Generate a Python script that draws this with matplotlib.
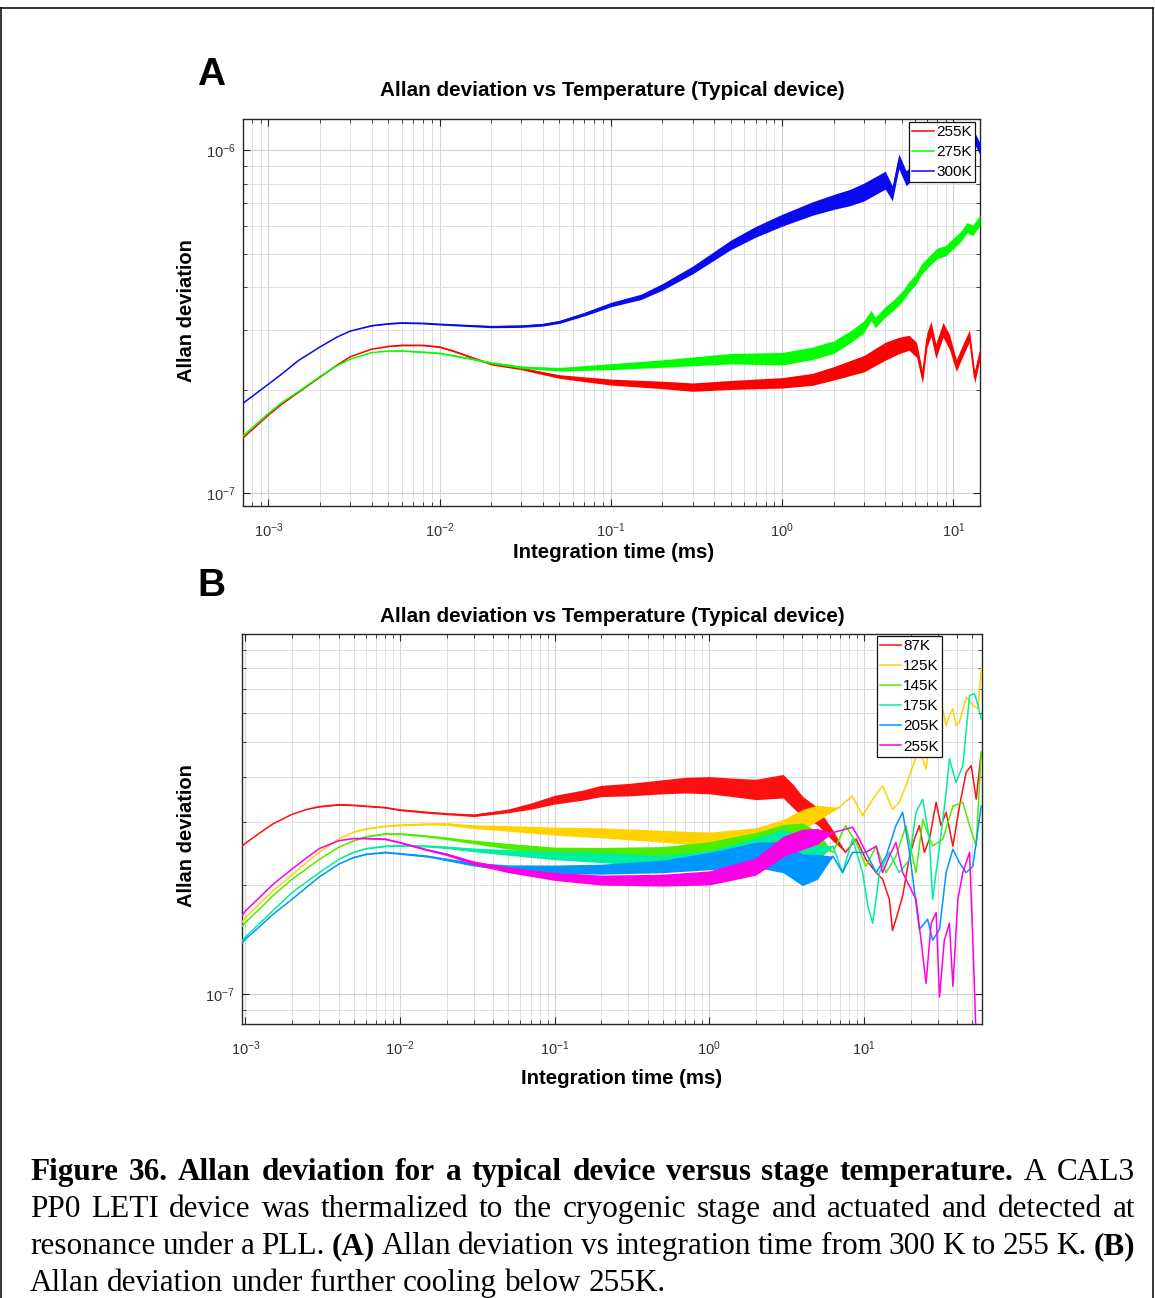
import numpy as np
import matplotlib
matplotlib.use("Agg")
import matplotlib.pyplot as plt
from matplotlib.lines import Line2D
from matplotlib.ticker import LogLocator, NullFormatter

# ---------------------------------------------------------------------------
# Allan deviation (in units of 1e-7) versus integration time (ms)
# NOISE_* = half-width of the noisy band around each trace (fraction)
# ---------------------------------------------------------------------------
ADEV_UNIT = 1e-7

# Panel A : 300 K down to 255 K
TAU_300K = [7.1e-4, 1e-3, 1.2e-3, 1.5e-3, 2e-3, 2.5e-3, 3e-3, 4e-3, 5e-3, 6e-3,
            8e-3, 1e-2, 1.5e-2, 2e-2, 3e-2, 4e-2, 5e-2, 7e-2, 0.1, 0.15,
            0.2, 0.3, 0.5, 0.7, 1.0, 1.5, 2.0, 2.5, 3.0, 3.5,
            4.0, 4.4, 4.8, 5.3, 6.0, 7.0, 8.0, 9.0, 10.0, 11.5,
            12.5, 13.5, 14.3]
ADEV_300K = [1.83, 2.08, 2.23, 2.44, 2.67, 2.85, 2.97, 3.08, 3.12, 3.14,
             3.13, 3.11, 3.08, 3.06, 3.07, 3.10, 3.16, 3.33, 3.55, 3.74,
             4.00, 4.48, 5.30, 5.79, 6.26, 6.77, 7.08, 7.30, 7.57, 7.90,
             8.20, 7.50, 9.30, 8.30, 8.80, 9.40, 9.00, 9.70, 9.90, 10.8,
             10.0, 10.7, 10.1]
NOISE_300K = [0, 0, 0, 0, 0, 0, 0, 0.002, 0.003, 0.004,
              0.004, 0.005, 0.006, 0.007, 0.008, 0.009, 0.010, 0.012, 0.015, 0.018,
              0.022, 0.026, 0.032, 0.036, 0.040, 0.045, 0.050, 0.055, 0.060, 0.060,
              0.060, 0.050, 0.050, 0.050, 0.050, 0.050, 0.050, 0.050, 0.045, 0.040,
              0.040, 0.040, 0.040]

TAU_275K = [7.1e-4, 1e-3, 1.2e-3, 1.5e-3, 2e-3, 2.5e-3, 3e-3, 4e-3, 5e-3, 6e-3,
            8e-3, 1e-2, 1.5e-2, 2e-2, 3e-2, 5e-2, 0.1, 0.2, 0.5, 1.0,
            1.5, 2.0, 2.5, 3.0, 3.3, 3.5, 4.0, 4.5, 5.0, 5.5,
            6.0, 6.5, 7.0, 7.5, 8.0, 9.0, 10.0, 11.0, 12.0, 13.0,
            14.3]
ADEV_275K = [1.47, 1.71, 1.84, 1.98, 2.19, 2.35, 2.46, 2.57, 2.60, 2.60,
             2.58, 2.56, 2.47, 2.40, 2.33, 2.30, 2.34, 2.39, 2.47, 2.47,
             2.56, 2.67, 2.86, 3.06, 3.30, 3.15, 3.38, 3.55, 3.74, 4.00,
             4.19, 4.50, 4.68, 4.85, 5.00, 5.10, 5.36, 5.60, 5.95, 5.85,
             6.26]
NOISE_275K = [0, 0, 0, 0, 0, 0, 0, 0, 0.002, 0.003,
              0.003, 0.004, 0.005, 0.006, 0.008, 0.012, 0.020, 0.025, 0.035, 0.042,
              0.042, 0.042, 0.040, 0.040, 0.035, 0.035, 0.035, 0.035, 0.035, 0.035,
              0.035, 0.035, 0.035, 0.035, 0.035, 0.035, 0.035, 0.035, 0.035, 0.035,
              0.035]

TAU_255K_A = [7.1e-4, 1e-3, 1.2e-3, 1.5e-3, 2e-3, 2.5e-3, 3e-3, 4e-3, 5e-3, 6e-3,
              7e-3, 8e-3, 1e-2, 1.2e-2, 1.5e-2, 2e-2, 3e-2, 4e-2, 5e-2, 7e-2,
              0.1, 0.2, 0.3, 0.5, 1.0, 1.5, 2.0, 3.0, 4.0, 4.8,
              5.5, 6.1, 6.6, 7.0, 7.4, 7.9, 8.7, 9.5, 10.4, 11.3,
              12.4, 13.3, 14.3]
ADEV_255K_A = [1.45, 1.69, 1.82, 1.97, 2.18, 2.36, 2.50, 2.63, 2.68, 2.70,
               2.70, 2.70, 2.67, 2.60, 2.50, 2.38, 2.31, 2.24, 2.19, 2.15,
               2.11, 2.07, 2.04, 2.07, 2.10, 2.15, 2.24, 2.39, 2.60, 2.70,
               2.75, 2.62, 2.18, 2.80, 3.02, 2.60, 3.00, 2.76, 2.36, 2.60,
               2.88, 2.18, 2.56]
NOISE_255K_A = [0, 0, 0, 0, 0, 0, 0, 0, 0.002, 0.003,
                0.003, 0.003, 0.004, 0.005, 0.005, 0.006, 0.008, 0.010, 0.012, 0.016,
                0.020, 0.025, 0.028, 0.030, 0.035, 0.040, 0.045, 0.055, 0.060, 0.055,
                0.050, 0.050, 0.040, 0.050, 0.050, 0.050, 0.050, 0.050, 0.040, 0.040,
                0.040, 0.040, 0.040]

LABELS_A = ["255K", "275K", "300K"]
COLORS_A = ["#ff0000", "#00ff00", "#0a0af0"]

# Panel B : further cooling below 255 K
TAU_B_SHARED = [9.5e-4, 1e-3, 1.2e-3, 1.5e-3, 2e-3, 2.5e-3, 3e-3, 4e-3, 5e-3, 6e-3,
                8e-3, 1e-2, 1.5e-2, 2e-2, 3e-2, 5e-2, 0.1, 0.2, 0.5, 1.0,
                2.0, 3.0, 4.0, 5.0]
NOISE_B_SHARED = [0, 0, 0, 0, 0, 0, 0, 0, 0.002, 0.003,
                  0.004, 0.005, 0.006, 0.008, 0.012, 0.018, 0.026, 0.032, 0.038, 0.045,
                  0.055, 0.065, 0.065, 0.050]

TAU_87K = [9.5e-4, 1e-3, 1.2e-3, 1.5e-3, 2e-3, 2.5e-3, 3e-3, 4e-3, 5e-3, 6e-3,
           8e-3, 1e-2, 1.5e-2, 2e-2, 3e-2, 5e-2, 7e-2, 0.1, 0.15, 0.2,
           0.3, 0.5, 0.7, 1.0, 1.5, 2.0, 3.0, 3.5, 4.0, 5.0,
           6.3, 7.6, 8.9, 10.3, 12.0, 13.2, 14.6, 15.3, 16.1, 17.8,
           19.7, 21.2, 22.8, 24.6, 26.5, 29.3, 31.5, 34.0, 37.6, 41.5,
           45.8, 49.4, 53.2, 57.3]
ADEV_87K = [2.57, 2.62, 2.77, 2.96, 3.15, 3.25, 3.31, 3.35, 3.34, 3.32,
            3.29, 3.24, 3.19, 3.16, 3.13, 3.22, 3.32, 3.46, 3.56, 3.66,
            3.69, 3.76, 3.80, 3.80, 3.74, 3.70, 3.78, 3.54, 3.32, 3.12,
            2.75, 2.47, 2.69, 2.36, 2.17, 2.08, 1.83, 1.50, 1.61, 1.87,
            2.41, 2.69, 2.93, 2.47, 2.69, 3.40, 2.93, 3.19, 2.57, 3.32,
            4.12, 4.30, 3.47, 4.68]
NOISE_87K = [0, 0, 0, 0, 0, 0, 0.003, 0.004, 0.004, 0.004,
             0.004, 0.005, 0.006, 0.006, 0.008, 0.012, 0.020, 0.028, 0.032, 0.036,
             0.040, 0.045, 0.050, 0.055, 0.060, 0.065, 0.075, 0.075, 0.065, 0.055,
             0.035, 0, 0, 0, 0, 0, 0, 0, 0, 0,
             0, 0, 0, 0, 0, 0, 0, 0, 0, 0,
             0, 0, 0, 0]

ADEV_125K_HEAD = [1.58, 1.63, 1.76, 1.93, 2.14, 2.32, 2.47, 2.69, 2.81, 2.87,
                  2.92, 2.94, 2.96, 2.96, 2.91, 2.88, 2.83, 2.80, 2.74, 2.69,
                  2.74, 2.86, 3.05, 3.18]
TAU_125K_TAIL = [6.9, 8.4, 9.8, 11.4, 13.2, 15.3, 16.9, 18.7, 20.7, 22.8,
                 25.2, 27.8, 30.8, 32.4, 34.0, 35.7, 37.6, 39.4, 41.5, 45.8,
                 50.6, 54.6, 57.3]
ADEV_125K_TAIL = [3.29, 3.54, 3.12, 3.47, 3.78, 3.25, 3.40, 3.78, 4.30, 4.78,
                  4.21, 5.80, 5.68, 6.12, 5.56, 5.92, 6.18, 5.56, 5.68, 6.66,
                  6.32, 6.18, 7.99]

ADEV_145K_HEAD = [1.54, 1.58, 1.70, 1.87, 2.08, 2.23, 2.36, 2.55, 2.66, 2.73,
                  2.78, 2.78, 2.74, 2.70, 2.64, 2.57, 2.49, 2.47, 2.47, 2.53,
                  2.66, 2.77, 2.80, 2.69]
TAU_145K_TAIL = [6.3, 7.6, 8.9, 10.3, 12.0, 13.9, 16.1, 18.7, 21.7, 24.0,
                 27.8, 32.4, 37.6, 43.6, 48.2, 53.2, 57.3]
ADEV_145K_TAIL = [2.47, 2.93, 2.63, 2.26, 2.57, 2.17, 2.41, 2.93, 2.17, 3.05,
                  2.57, 2.69, 3.32, 3.40, 2.93, 2.57, 4.68]

ADEV_175K_HEAD = [1.40, 1.44, 1.55, 1.70, 1.91, 2.05, 2.17, 2.36, 2.47, 2.53,
                  2.57, 2.58, 2.57, 2.55, 2.51, 2.47, 2.42, 2.39, 2.34, 2.39,
                  2.57, 2.69, 2.57, 2.47]
TAU_175K_TAIL = [6.3, 7.27, 8.44, 9.8, 10.6, 11.4, 12.6, 14.6, 16.9, 19.7,
                 21.7, 24.0, 26.5, 27.8, 30.8, 34.0, 35.7, 39.4, 43.6, 48.2,
                 51.9, 54.6, 57.3]
ADEV_175K_TAIL = [2.57, 2.17, 2.69, 2.17, 1.75, 1.57, 2.17, 2.47, 2.17, 2.36,
                  3.19, 3.47, 2.69, 1.83, 2.57, 3.62, 4.49, 3.86, 4.30, 6.73,
                  6.81, 6.32, 5.80]

ADEV_205K_HEAD = [1.38, 1.42, 1.52, 1.66, 1.83, 1.98, 2.11, 2.29, 2.39, 2.44,
                  2.47, 2.45, 2.41, 2.36, 2.29, 2.24, 2.22, 2.22, 2.26, 2.34,
                  2.44, 2.41, 2.22, 2.26]
NOISE_205K_HEAD = [0, 0, 0, 0, 0, 0, 0, 0, 0.002, 0.003,
                   0.004, 0.005, 0.006, 0.008, 0.012, 0.018, 0.026, 0.032, 0.040, 0.055,
                   0.080, 0.100, 0.100, 0.080]
TAU_205K_TAIL = [6.3, 7.27, 8.44, 10.3, 12.0, 13.9, 16.1, 17.8, 19.7, 22.8,
                 25.8, 27.8, 30.8, 34.0, 37.6, 41.5, 45.8, 50.6, 57.3]
ADEV_205K_TAIL = [2.41, 2.17, 2.47, 2.47, 2.17, 2.41, 2.93, 3.19, 2.47, 1.51,
                  1.61, 1.41, 1.51, 2.17, 2.52, 2.31, 2.17, 2.26, 3.32]

ADEV_255K_B_HEAD = [1.65, 1.70, 1.83, 2.01, 2.22, 2.39, 2.53, 2.66, 2.70, 2.70,
                    2.69, 2.63, 2.51, 2.44, 2.31, 2.21, 2.12, 2.07, 2.07, 2.10,
                    2.26, 2.57, 2.69, 2.74]
TAU_255K_B_TAIL = [6.27, 8.44, 9.33, 10.3, 12.0, 13.2, 14.6, 16.1, 17.8, 19.7,
                   21.7, 23.4, 25.2, 27.2, 29.3, 30.8, 33.1, 35.7, 37.6, 40.5,
                   43.6, 48.2, 50.6, 53.2, 57.3]
ADEV_255K_B_TAIL = [2.80, 2.90, 2.69, 2.47, 2.57, 2.17, 2.41, 2.63, 2.17, 1.99,
                    1.83, 1.41, 1.07, 1.57, 1.68, 0.98, 1.41, 1.57, 1.05, 1.83,
                    2.17, 2.47, 1.41, 0.744, 0.777]

LABELS_B = ["87K", "125K", "145K", "175K", "205K", "255K"]
COLORS_B = ["#ff1010", "#ffd200", "#4cee00", "#00eea0", "#0096ff", "#ff00e6"]

TITLE = "Allan deviation vs Temperature (Typical device)"
XLABEL = "Integration time (ms)"
YLABEL = "Allan deviation"

CAPTION = [
    [("Figure", 1), ("36.", 1), ("Allan", 1), ("deviation", 1), ("for", 1), ("a", 1),
     ("typical", 1), ("device", 1), ("versus", 1), ("stage", 1), ("temperature.", 1),
     ("A", 0), ("CAL3", 0)],
    [(w, 0) for w in "PP0 LETI device was thermalized to the cryogenic stage "
                     "and actuated and detected at".split()],
    [("resonance", 0), ("under", 0), ("a", 0), ("PLL.", 0), ("(A)", 1), ("Allan", 0),
     ("deviation", 0), ("vs", 0), ("integration", 0), ("time", 0), ("from", 0),
     ("300", 0), ("K", 0), ("to", 0), ("255", 0), ("K.", 0), ("(B)", 1)],
    [(w, 0) for w in "Allan deviation under further cooling below 255K.".split()],
]

# ---------------------------------------------------------------------------
plt.rcParams['font.family'] = ['Liberation Sans', 'DejaVu Sans']
plt.rcParams['mathtext.fontset'] = 'custom'
plt.rcParams['mathtext.rm'] = 'Liberation Sans'
plt.rcParams['mathtext.it'] = 'Liberation Sans:italic'
plt.rcParams['mathtext.bf'] = 'Liberation Sans:bold'

W, H = 1155, 1298
fig = plt.figure(figsize=(W / 100, H / 100), dpi=100)
fig.patch.set_facecolor('white')
renderer = fig.canvas.get_renderer()


def add_axes_px(left, top, right, bottom):
    return fig.add_axes([left / W, 1 - bottom / H, (right - left) / W, (bottom - top) / H])


def style_axes(ax):
    ax.set_xscale('log')
    ax.set_yscale('log')
    for axis in (ax.xaxis, ax.yaxis):
        axis.set_major_locator(LogLocator(base=10, numticks=15))
        axis.set_minor_locator(LogLocator(base=10, subs=np.arange(2, 10), numticks=15))
        axis.set_minor_formatter(NullFormatter())
    ax.grid(True, which='major', color='#d2d2d2', lw=0.8)
    ax.grid(True, which='minor', color='#dedede', lw=0.7)
    ax.set_axisbelow(True)
    ax.tick_params(which='both', direction='in', top=True, right=True,
                   colors='#262626', labelcolor='#333333', labelsize=10.5)
    ax.tick_params(which='major', length=5, width=0.8)
    ax.tick_params(which='minor', length=3, width=0.6)
    ax.tick_params(axis='x', which='major', pad=11)
    ax.tick_params(axis='y', which='major', pad=5)
    for sp in ax.spines.values():
        sp.set_color('#262626')
        sp.set_linewidth(1.0)


def draw_trace(ax, tau, adev, noise, color, label, z):
    tau = np.asarray(tau, dtype=float)
    y = np.asarray(adev, dtype=float) * ADEV_UNIT
    s = np.asarray(noise, dtype=float)
    if s.any():
        ax.fill_between(tau, y * (1 - s), y * (1 + s), color=color, lw=0, zorder=z)
    line, = ax.plot(tau, y, color=color, lw=1.1, label=label, zorder=z + 0.5)
    return line


def legend(ax, anchor):
    leg = ax.legend(loc='upper right', bbox_to_anchor=anchor, fontsize=11,
                    frameon=True, fancybox=False, framealpha=1, edgecolor='#111111',
                    borderpad=0.2, labelspacing=0.4, handlelength=1.4,
                    handletextpad=0.15, borderaxespad=0)
    leg.get_frame().set_linewidth(0.9)
    leg.set_zorder(50)


def fitted_text(s, x, y, width, rotation=0, **kw):
    t = fig.text(x / W, 1 - y / H, s, ha='center', va='center',
                 rotation=rotation, fontsize=10, **kw)
    bb = t.get_window_extent(renderer)
    size = bb.height if rotation else bb.width
    t.set_fontsize(10 * width / size)
    return t


# ---- Panel A --------------------------------------------------------------
axA = add_axes_px(243, 119, 980, 506)
style_axes(axA)
series_a = [(TAU_255K_A, ADEV_255K_A, NOISE_255K_A),
            (TAU_275K, ADEV_275K, NOISE_275K),
            (TAU_300K, ADEV_300K, NOISE_300K)]
for i, ((t, a, n), c, lab) in enumerate(zip(series_a, COLORS_A, LABELS_A)):
    draw_trace(axA, t, a, n, c, lab, 3 + i)
axA.set_xlim(7.1e-4, 14.3)
axA.set_ylim(9.18e-8, 1.234e-6)
legend(axA, (0.993, 0.992))

# ---- Panel B --------------------------------------------------------------
axB = add_axes_px(242, 634, 982, 1024)
style_axes(axB)


def zeros_like(seq):
    return [0] * len(seq)


series_b = [
    (TAU_87K, ADEV_87K, NOISE_87K),
    (TAU_B_SHARED + TAU_125K_TAIL, ADEV_125K_HEAD + ADEV_125K_TAIL,
     NOISE_B_SHARED + zeros_like(TAU_125K_TAIL)),
    (TAU_B_SHARED + TAU_145K_TAIL, ADEV_145K_HEAD + ADEV_145K_TAIL,
     NOISE_B_SHARED + zeros_like(TAU_145K_TAIL)),
    (TAU_B_SHARED + TAU_175K_TAIL, ADEV_175K_HEAD + ADEV_175K_TAIL,
     NOISE_B_SHARED + zeros_like(TAU_175K_TAIL)),
    (TAU_B_SHARED + TAU_205K_TAIL, ADEV_205K_HEAD + ADEV_205K_TAIL,
     NOISE_205K_HEAD + zeros_like(TAU_205K_TAIL)),
    (TAU_B_SHARED + TAU_255K_B_TAIL, ADEV_255K_B_HEAD + ADEV_255K_B_TAIL,
     NOISE_B_SHARED + zeros_like(TAU_255K_B_TAIL)),
]
for i, ((t, a, n), c, lab) in enumerate(zip(series_b, COLORS_B, LABELS_B)):
    draw_trace(axB, t, a, n, c, lab, 3 + i)
axB.set_xlim(9.5e-4, 58)
axB.set_ylim(8.25e-8, 9.97e-7)
legend(axB, (0.946, 0.995))

# ---- titles, axis labels, panel letters ----------------------------------
fitted_text(TITLE, 612, 91, 463, weight='bold')
fitted_text(TITLE, 612, 616, 463, weight='bold')
fitted_text(XLABEL, 614, 553, 202, weight='bold')
fitted_text(XLABEL, 622, 1079, 202, weight='bold')
fitted_text(YLABEL, 186, 311, 143, rotation=90, weight='bold')
fitted_text(YLABEL, 186, 836, 143, rotation=90, weight='bold')
fig.text(197 / W, 1 - 85 / H, "A", fontsize=28, weight='bold', ha='left', va='baseline')
fig.text(197 / W, 1 - 596 / H, "B", fontsize=28, weight='bold', ha='left', va='baseline')

# ---- caption (justified block of Times-like text) ------------------------
serif = ['Liberation Serif', 'DejaVu Serif']
probe = fig.text(0, 0, " ".join(w for w, _ in CAPTION[3]), fontsize=20, family=serif)
cap_fs = 20 * 636 / probe.get_window_extent(renderer).width
probe.remove()

baselines = [1180, 1217, 1254, 1291]
right_edges = [1135, 1135, 1135, 666]
for words, yb, xr in zip(CAPTION, baselines, right_edges):
    texts = [fig.text(0, 1 - yb / H, w, fontsize=cap_fs, family=serif,
                      weight='bold' if b else 'normal', ha='left', va='baseline')
             for w, b in words]
    widths = [t.get_window_extent(renderer).width for t in texts]
    gap = (xr - 30 - sum(widths)) / (len(texts) - 1)
    x = 30.0
    for t, wd in zip(texts, widths):
        t.set_x(x / W)
        x += wd + gap

# ---- outer frame ----------------------------------------------------------
for xs, ys in [((0, 1153), (8, 8)), ((1, 1), (8, H)), ((1153, 1153), (8, H))]:
    fig.add_artist(Line2D([x / W for x in xs], [1 - y / H for y in ys],
                          transform=fig.transFigure, color='black', lw=1.1))

fig.savefig('out.png', dpi=100, facecolor='white')
